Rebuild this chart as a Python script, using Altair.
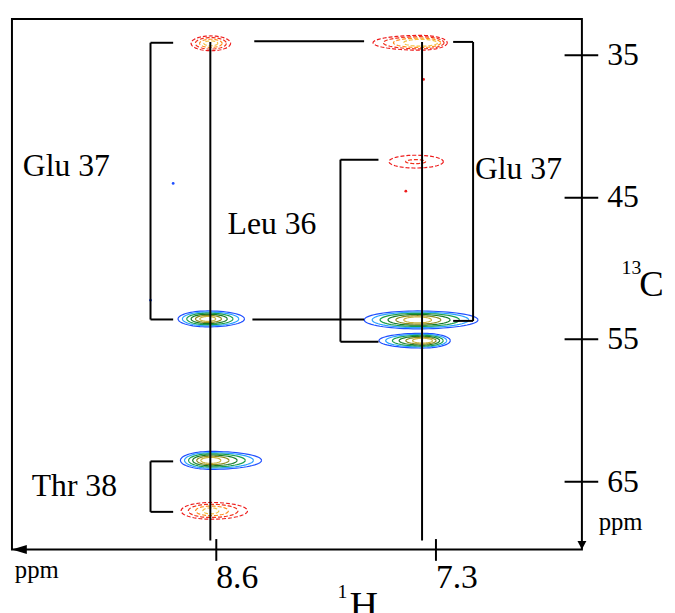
import numpy as np
import pandas as pd
import altair as alt

# ---- peaks (ppm) ----
peak_x = [8.629, 7.388, 7.417, 8.647, 7.405, 7.376, 8.629, 8.629]
peak_y = [34.20, 34.16, 42.52, 53.58, 53.65, 55.11, 63.53, 67.08]
peak_sign = [-1, -1, -1, 1, 1, 1, 1, -1]
outer_left = [0.117, 0.281, 0.158, 0.176, 0.316, 0.258, 0.180, 0.176]
outer_right = [0.117, 0.158, 0.164, 0.217, 0.357, 0.164, 0.300, 0.217]
outer_ry = [0.52, 0.52, 0.45, 0.56, 0.63, 0.52, 0.63, 0.59]
inner_left = [0.041, 0.100, 0.059, 0.047, 0.082, 0.059, 0.059, 0.047]
inner_right = [0.041, 0.100, 0.059, 0.047, 0.082, 0.059, 0.059, 0.047]
inner_ry = [0.17, 0.24, 0.14, 0.17, 0.21, 0.17, 0.21, 0.21]
peak_levels = [4, 4, 2, 6, 6, 6, 6, 4]

pos_colors = ["#1f4fff", "#2ba3ff", "#1b9e4b", "#157a2a", "#8c8a1e", "#c9b13c"]
neg_colors = ["#ee1c1c", "#f0301a", "#ff8c1a", "#f2c040"]

# small isolated contour specks
dot_x = [7.370, 7.475, 8.852, 8.986]
dot_y = [36.74, 44.60, 44.05, 52.26]
dot_color = ["#ee1c1c", "#ee1c1c", "#1f4fff", "#1f4fff"]

# assignment brackets / connecting lines (ppm)
seg_x1 = [8.986, 8.986, 8.986, 8.372, 8.383, 7.195, 7.077, 7.195, 7.862, 7.862, 7.862, 8.986, 8.986, 8.986, 8.632, 7.379]
seg_x2 = [8.986, 8.852, 8.852, 7.722, 7.722, 7.077, 7.077, 7.077, 7.862, 7.637, 7.637, 8.986, 8.852, 8.852, 8.632, 7.379]
seg_y1 = [34.16, 34.16, 53.62, 34.06, 53.62, 34.10, 34.10, 53.72, 42.38, 42.38, 55.18, 63.60, 63.60, 67.15, 34.10, 34.10]
seg_y2 = [53.62, 34.16, 53.62, 34.06, 53.62, 34.10, 53.72, 53.72, 55.18, 42.38, 55.18, 67.15, 63.60, 67.15, 69.17, 69.17]

# labels
label_text = ["Glu 37", "Leu 36", "Glu 37", "Thr 38", "ppm", "ppm", "13", "C", "1", "H"]
label_x = [9.742, 8.530, 7.066, 9.689, 6.334, 9.789, 6.198, 6.094, 7.880, 7.809]
label_y = [43.56, 47.60, 43.77, 66.04, 68.40, 71.81, 50.45, 51.98, 73.20, 74.67]
label_size = [32, 32, 32, 32, 25, 25, 20, 37, 20, 40]

x_ticks = [8.6, 7.3]
y_ticks = [35, 45, 55, 65]
x_domain = [6.433, 9.806]
y_domain = [32.495, 69.795]

# ---- build contour rings from peak parameters ----
theta = np.linspace(0, 2 * np.pi, 73)
rows = []
for p in range(len(peak_x)):
    n = peak_levels[p]
    cols = pos_colors if peak_sign[p] > 0 else neg_colors
    for k in range(n):
        f = k / (n - 1) if n > 1 else 0
        rl = outer_left[p] + (inner_left[p] - outer_left[p]) * f
        rr = outer_right[p] + (inner_right[p] - outer_right[p]) * f
        ry = outer_ry[p] + (inner_ry[p] - outer_ry[p]) * f
        c = np.cos(theta)
        s = np.sin(theta)
        xs = peak_x[p] - np.where(c > 0, rr, rl) * c
        ys = peak_y[p] + ry * s
        for i in range(len(theta)):
            rows.append({"x": xs[i], "y": ys[i], "ring": f"{p}-{k}", "i": i,
                         "color": cols[k], "sign": peak_sign[p]})
rings = pd.DataFrame(rows)

segs = pd.DataFrame({"x": seg_x1, "x2": seg_x2, "y": seg_y1, "y2": seg_y2})
dots = pd.DataFrame({"x": dot_x, "y": dot_y, "color": dot_color})
labels = pd.DataFrame({"x": label_x, "y": label_y, "text": label_text, "fs": label_size})
corner = pd.DataFrame({"x": [x_domain[1], x_domain[0]], "y": [y_domain[1], y_domain[1]]})

FONT = "Liberation Serif"
xs_ = alt.Scale(domain=x_domain, reverse=True, nice=False, zero=False)
ys_ = alt.Scale(domain=y_domain, reverse=True, nice=False, zero=False)
xaxis = alt.Axis(values=x_ticks, format=".1f", orient="bottom", offset=-11, tickSize=22,
                 tickWidth=2, tickColor="black", domain=False, grid=False,
                 labelFont=FONT, labelFontSize=34, labelColor="black", labelAlign="left",
                 labelBaseline="alphabetic", labelPadding=27, title=None,
                 labelFlush=False, labelOverlap=False)
yaxis = alt.Axis(values=y_ticks, orient="right", offset=-18, tickSize=34, tickWidth=2,
                 tickColor="black", domain=False, grid=False, labelFont=FONT,
                 labelFontSize=32, labelColor="black", labelAlign="left",
                 labelBaseline="middle", labelPadding=9, title=None, labelFlush=False,
                 labelOverlap=False)


def X(f="x"):
    return alt.X(f"{f}:Q", scale=xs_, axis=xaxis)


def Y(f="y"):
    return alt.Y(f"{f}:Q", scale=ys_, axis=yaxis)


pos = alt.Chart(rings[rings.sign > 0]).mark_line(strokeWidth=1.2).encode(
    x=X(), y=Y(), detail="ring:N", order="i:Q", color=alt.Color("color:N", scale=None))
neg = alt.Chart(rings[rings.sign < 0]).mark_line(strokeWidth=1.2, strokeDash=[4, 2]).encode(
    x=X(), y=Y(), detail="ring:N", order="i:Q", color=alt.Color("color:N", scale=None))
dot_layer = alt.Chart(dots).mark_point(filled=True, size=8, opacity=1).encode(
    x=X(), y=Y(), color=alt.Color("color:N", scale=None))
seg_layer = alt.Chart(segs).mark_rule(color="black", strokeWidth=2).encode(
    x=X(), x2="x2:Q", y=Y(), y2="y2:Q")
text_layer = alt.Chart(labels).mark_text(align="left", baseline="alphabetic", font=FONT,
                                         color="black").encode(
    x=X(), y=Y(), text="text:N", size=alt.Size("fs:Q", scale=None))
arrow_left = alt.Chart(corner.iloc[[0]]).mark_point(
    shape="M0,0 L3,-0.9 L3,0.9 Z", filled=True, color="black", opacity=1, size=100).encode(
    x=X(), y=Y())
arrow_down = alt.Chart(corner.iloc[[1]]).mark_point(
    shape="M0,0 L-0.9,-1.7 L0.9,-1.7 Z", filled=True, color="black", opacity=1, size=100).encode(
    x=X(), y=Y())

chart = alt.layer(pos, neg, dot_layer, seg_layer, text_layer, arrow_left, arrow_down).properties(
    width=576, height=536,
    autosize=alt.AutoSizeParams(type="none"),
    padding={"left": 4, "top": 8, "right": 86, "bottom": 61},
    background="white",
).configure_view(stroke="black", strokeWidth=2)

chart.save("out.html", embed_options={"renderer": "svg", "actions": False})
